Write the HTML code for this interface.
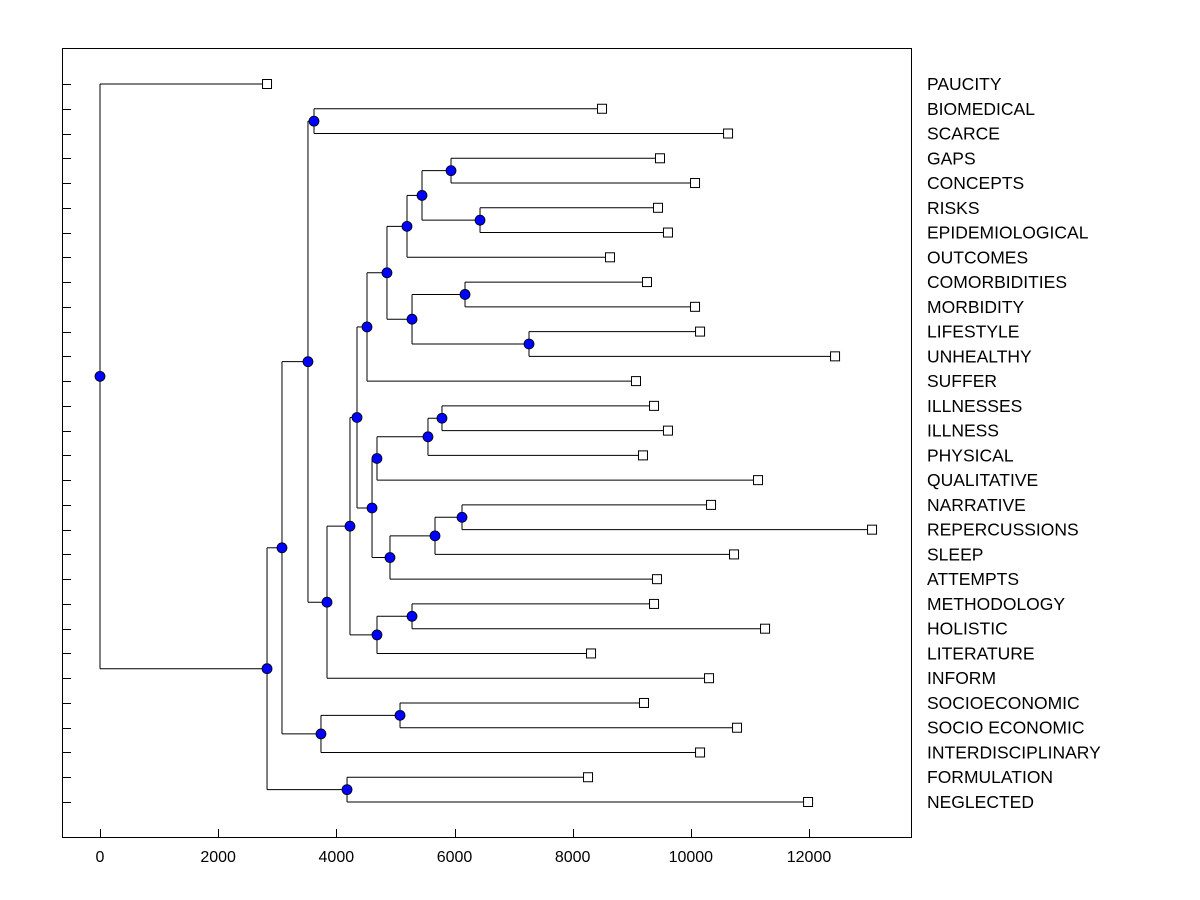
<!DOCTYPE html>
<html><head><meta charset="utf-8"><style>body{margin:0;background:#fff}svg{display:block}text{font-family:"Liberation Sans",sans-serif}</style></head>
<body>
<svg id="c" width="1200" height="900">
<rect x="62.5" y="48.5" width="849" height="789" fill="none" stroke="#000"/>
<g id="g"></g>
</svg>
<script>
const leaves=["PAUCITY","BIOMEDICAL","SCARCE","GAPS","CONCEPTS","RISKS","EPIDEMIOLOGICAL","OUTCOMES","COMORBIDITIES","MORBIDITY","LIFESTYLE","UNHEALTHY","SUFFER","ILLNESSES","ILLNESS","PHYSICAL","QUALITATIVE","NARRATIVE","REPERCUSSIONS","SLEEP","ATTEMPTS","METHODOLOGY","HOLISTIC","LITERATURE","INFORM","SOCIOECONOMIC","SOCIO ECONOMIC","INTERDISCIPLINARY","FORMULATION","NEGLECTED"];
const leafValues=[2827,8497,10630,9478,10071,9444,9613,8632,9258,10071,10156,12441,9072,9377,9613,9190,11137,10342,13067,10731,9427,9377,11256,8311,10308,9207,10782,10156,8260,11984];
const nodeNames=["Y","Z","X","V","AA","BB","W","U","M","R","Q","O","T","S","P","N","J","L","K","I","H","G","D","F","E","B","C","A","root"];
const nodeHeights=[5941,6432,5450,5196,6178,7261,5281,4857,4519,5788,5551,4688,6127,5670,4908,4604,4350,5281,4688,4231,3842,3622,3520,5078,3740,3080,4181,2827,0];
const nodeLeft=["L3","L5","N0","N2","L8","L10","N4","N3","N7","L13","N9","N10","L17","N12","N13","N11","N8","L21","N17","N16","N19","L1","N21","L25","N23","N22","L28","N25","L0"];
const nodeRight=["L4","L6","N1","L7","L9","L11","N5","N6","L12","L14","L15","L16","L18","L19","L20","N14","N15","L22","L23","N18","L24","L2","N20","L26","L27","N24","L29","N26","N27"];
const xTicks=[0,2000,4000,6000,8000,10000,12000];

const NS="http://www.w3.org/2000/svg",g=document.getElementById("g");
const X=v=>100+v*(709/12000), Y=i=>84+i*(718/29);
function mk(t,a){const e=document.createElementNS(NS,t);for(const k in a)e.setAttribute(k,a[k]);g.appendChild(e);return e;}
function line(x1,y1,x2,y2,name){const e=mk("line",{x1,y1,x2,y2,stroke:"#000","stroke-width":1});

}
leaves.forEach((n,i)=>{const y=Math.round(Y(i))+0.5;line(62,y,71,y,"y-tick");
const t=mk("text",{x:927,y:Y(i)+6,"font-size":17.5});t.textContent=n;

});
xTicks.forEach(v=>{const x=Math.round(X(v))+0.5;line(x,829,x,838,"x-tick");
const t=mk("text",{x:X(v),y:862,"font-size":16,"text-anchor":"middle"});t.textContent=v;

});
const pos={};
leaves.forEach((n,i)=>pos["L"+i]={x:X(leafValues[i]),y:Y(i)});
nodeNames.forEach((n,i)=>{const a=pos[nodeLeft[i]],b=pos[nodeRight[i]];pos["N"+i]={x:X(nodeHeights[i]),y:(a.y+b.y)/2};});
const marks=[];
nodeNames.forEach((n,i)=>{const p=pos["N"+i];
[nodeLeft[i],nodeRight[i]].forEach(c=>{const q=pos[c];line(p.x,p.y,p.x,q.y,"branch-vertical");line(p.x,q.y,q.x,q.y,"branch-horizontal");});
marks.push(p);});
leaves.forEach((n,i)=>{const p=pos["L"+i];const r=mk("rect",{x:p.x-4.5,y:p.y-4.5,width:9,height:9,fill:"#fff",stroke:"#000"});

});
marks.forEach(p=>{const c=mk("circle",{cx:p.x,cy:p.y,r:5,fill:"#0000ff",stroke:"#000","stroke-width":0.8});

});
</script>
</body></html>
